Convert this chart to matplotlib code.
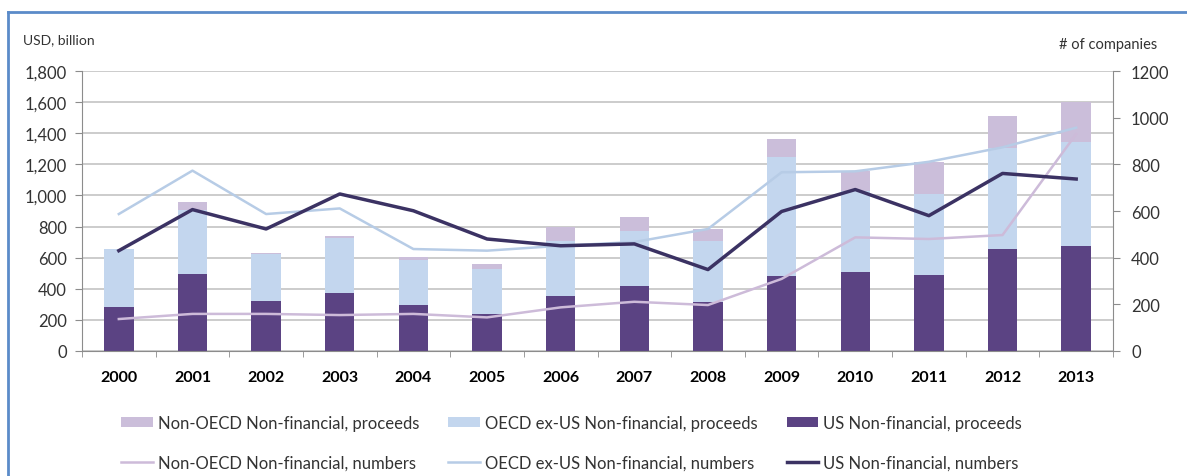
import matplotlib.pyplot as plt
import numpy as np
from matplotlib.lines import Line2D

plt.rcParams['font.family'] = ['Lato', 'DejaVu Sans']

years = ['2000', '2001', '2002', '2003', '2004', '2005', '2006',
         '2007', '2008', '2009', '2010', '2011', '2012', '2013']

# proceeds, USD billion (left axis)
us_proceeds = [281, 495, 323, 371, 298, 238, 356, 420, 313, 484, 506, 491, 658, 675]
oecd_proceeds = [372, 410, 300, 358, 285, 290, 353, 353, 396, 760, 524, 518, 650, 666]
nonoecd_proceeds = [3, 50, 7, 12, 19, 30, 86, 86, 75, 118, 130, 204, 203, 257]

# number of companies (right axis)
us_numbers = [430, 606, 523, 673, 601, 480, 451, 459, 349, 598, 692, 580, 761, 737]
oecd_numbers = [587, 773, 587, 611, 437, 430, 451, 467, 523, 766, 770, 811, 873, 957]
nonoecd_numbers = [137, 159, 159, 154, 159, 144, 187, 211, 197, 309, 487, 480, 497, 930]

c_us = '#5B4383'
c_oecd = '#C3D6EE'
c_non = '#CBBEDA'
c_us_line = '#3B3263'
c_oecd_line = '#B7CCE6'
c_non_line = '#CDBBD9'
grid_c = '#C4C4C4'
axis_c = '#8C8C8C'
txt_c = '#333333'

fig = plt.figure(figsize=(11.87, 4.77), dpi=100)
ax = fig.add_axes([82/1187, 1-352/477, (1113-82)/1187, (352-72)/477])

x = np.arange(len(years))
w = 0.4
us = np.array(us_proceeds)
oe = np.array(oecd_proceeds)
no = np.array(nonoecd_proceeds)
b_us = ax.bar(x, us, w, color=c_us, zorder=2)
b_oe = ax.bar(x, oe, w, bottom=us, color=c_oecd, zorder=2)
b_no = ax.bar(x, no, w, bottom=us + oe, color=c_non, zorder=2)

ax.set_xlim(-0.5, len(years) - 0.5)
ax.set_ylim(0, 1800)
ax.set_yticks(np.arange(0, 1801, 200))
ax.set_yticklabels(['{:,}'.format(v) for v in range(0, 1801, 200)])
ax.yaxis.grid(True, color=grid_c, lw=1.2, zorder=0)
ax.set_axisbelow(True)
ax.set_xticks(x)
ax.set_xticklabels(years, fontweight='bold')
ax.set_xticks(np.arange(-0.5, len(years), 1), minor=True)
ax.tick_params(axis='x', which='major', length=0, pad=14, labelsize=11.5)
ax.tick_params(axis='x', which='minor', length=4, color=axis_c)
ax.tick_params(axis='y', length=5, color=axis_c, pad=6, labelsize=12, labelcolor=txt_c)
for s in ['top', 'right']:
    ax.spines[s].set_visible(False)
for s in ['left', 'bottom']:
    ax.spines[s].set_color(axis_c)

ax2 = ax.twinx()
ax2.set_ylim(0, 1200)
ax2.set_yticks(np.arange(0, 1201, 200))
ax2.tick_params(axis='y', length=5, color=axis_c, pad=8, labelsize=12, labelcolor=txt_c)
for s in ['top', 'left', 'bottom']:
    ax2.spines[s].set_visible(False)
ax2.spines['right'].set_color(axis_c)

l_non, = ax2.plot(x, nonoecd_numbers, color=c_non_line, lw=1.8, zorder=3)
l_oe, = ax2.plot(x, oecd_numbers, color=c_oecd_line, lw=1.8, zorder=3)
l_us, = ax2.plot(x, us_numbers, color=c_us_line, lw=2.5, zorder=4)

fig.text(23/1187, 1-40/477, 'USD, billion', fontsize=10, va='center', color=txt_c)
fig.text(1157/1187, 1-45/477, '# of companies', fontsize=10.5, va='center', ha='right', color=txt_c)

handles = [b_no, l_non, b_oe, l_oe, b_us, l_us]
labels = ['Non-OECD Non-financial, proceeds', 'Non-OECD Non-financial, numbers',
          'OECD ex-US Non-financial, proceeds', 'OECD ex-US Non-financial, numbers',
          'US Non-financial, proceeds', 'US Non-financial, numbers']
fig.legend(handles, labels, ncol=3, loc='upper left', bbox_to_anchor=(106/1187, 1-401/477),
           frameon=False, fontsize=12, handlelength=1.9, handleheight=0.5,
           handletextpad=0.3, columnspacing=1.75, labelspacing=1.4, labelcolor=txt_c)

# blue frame around the chart
fig.add_artist(Line2D([8/1187, 8/1187], [0, 1-13/477], transform=fig.transFigure,
                      color='#5B8BC9', lw=2))
fig.add_artist(Line2D([8/1187, 1], [1-13/477, 1-13/477], transform=fig.transFigure,
                      color='#5B8BC9', lw=2))

fig.savefig('out.png', dpi=100)
